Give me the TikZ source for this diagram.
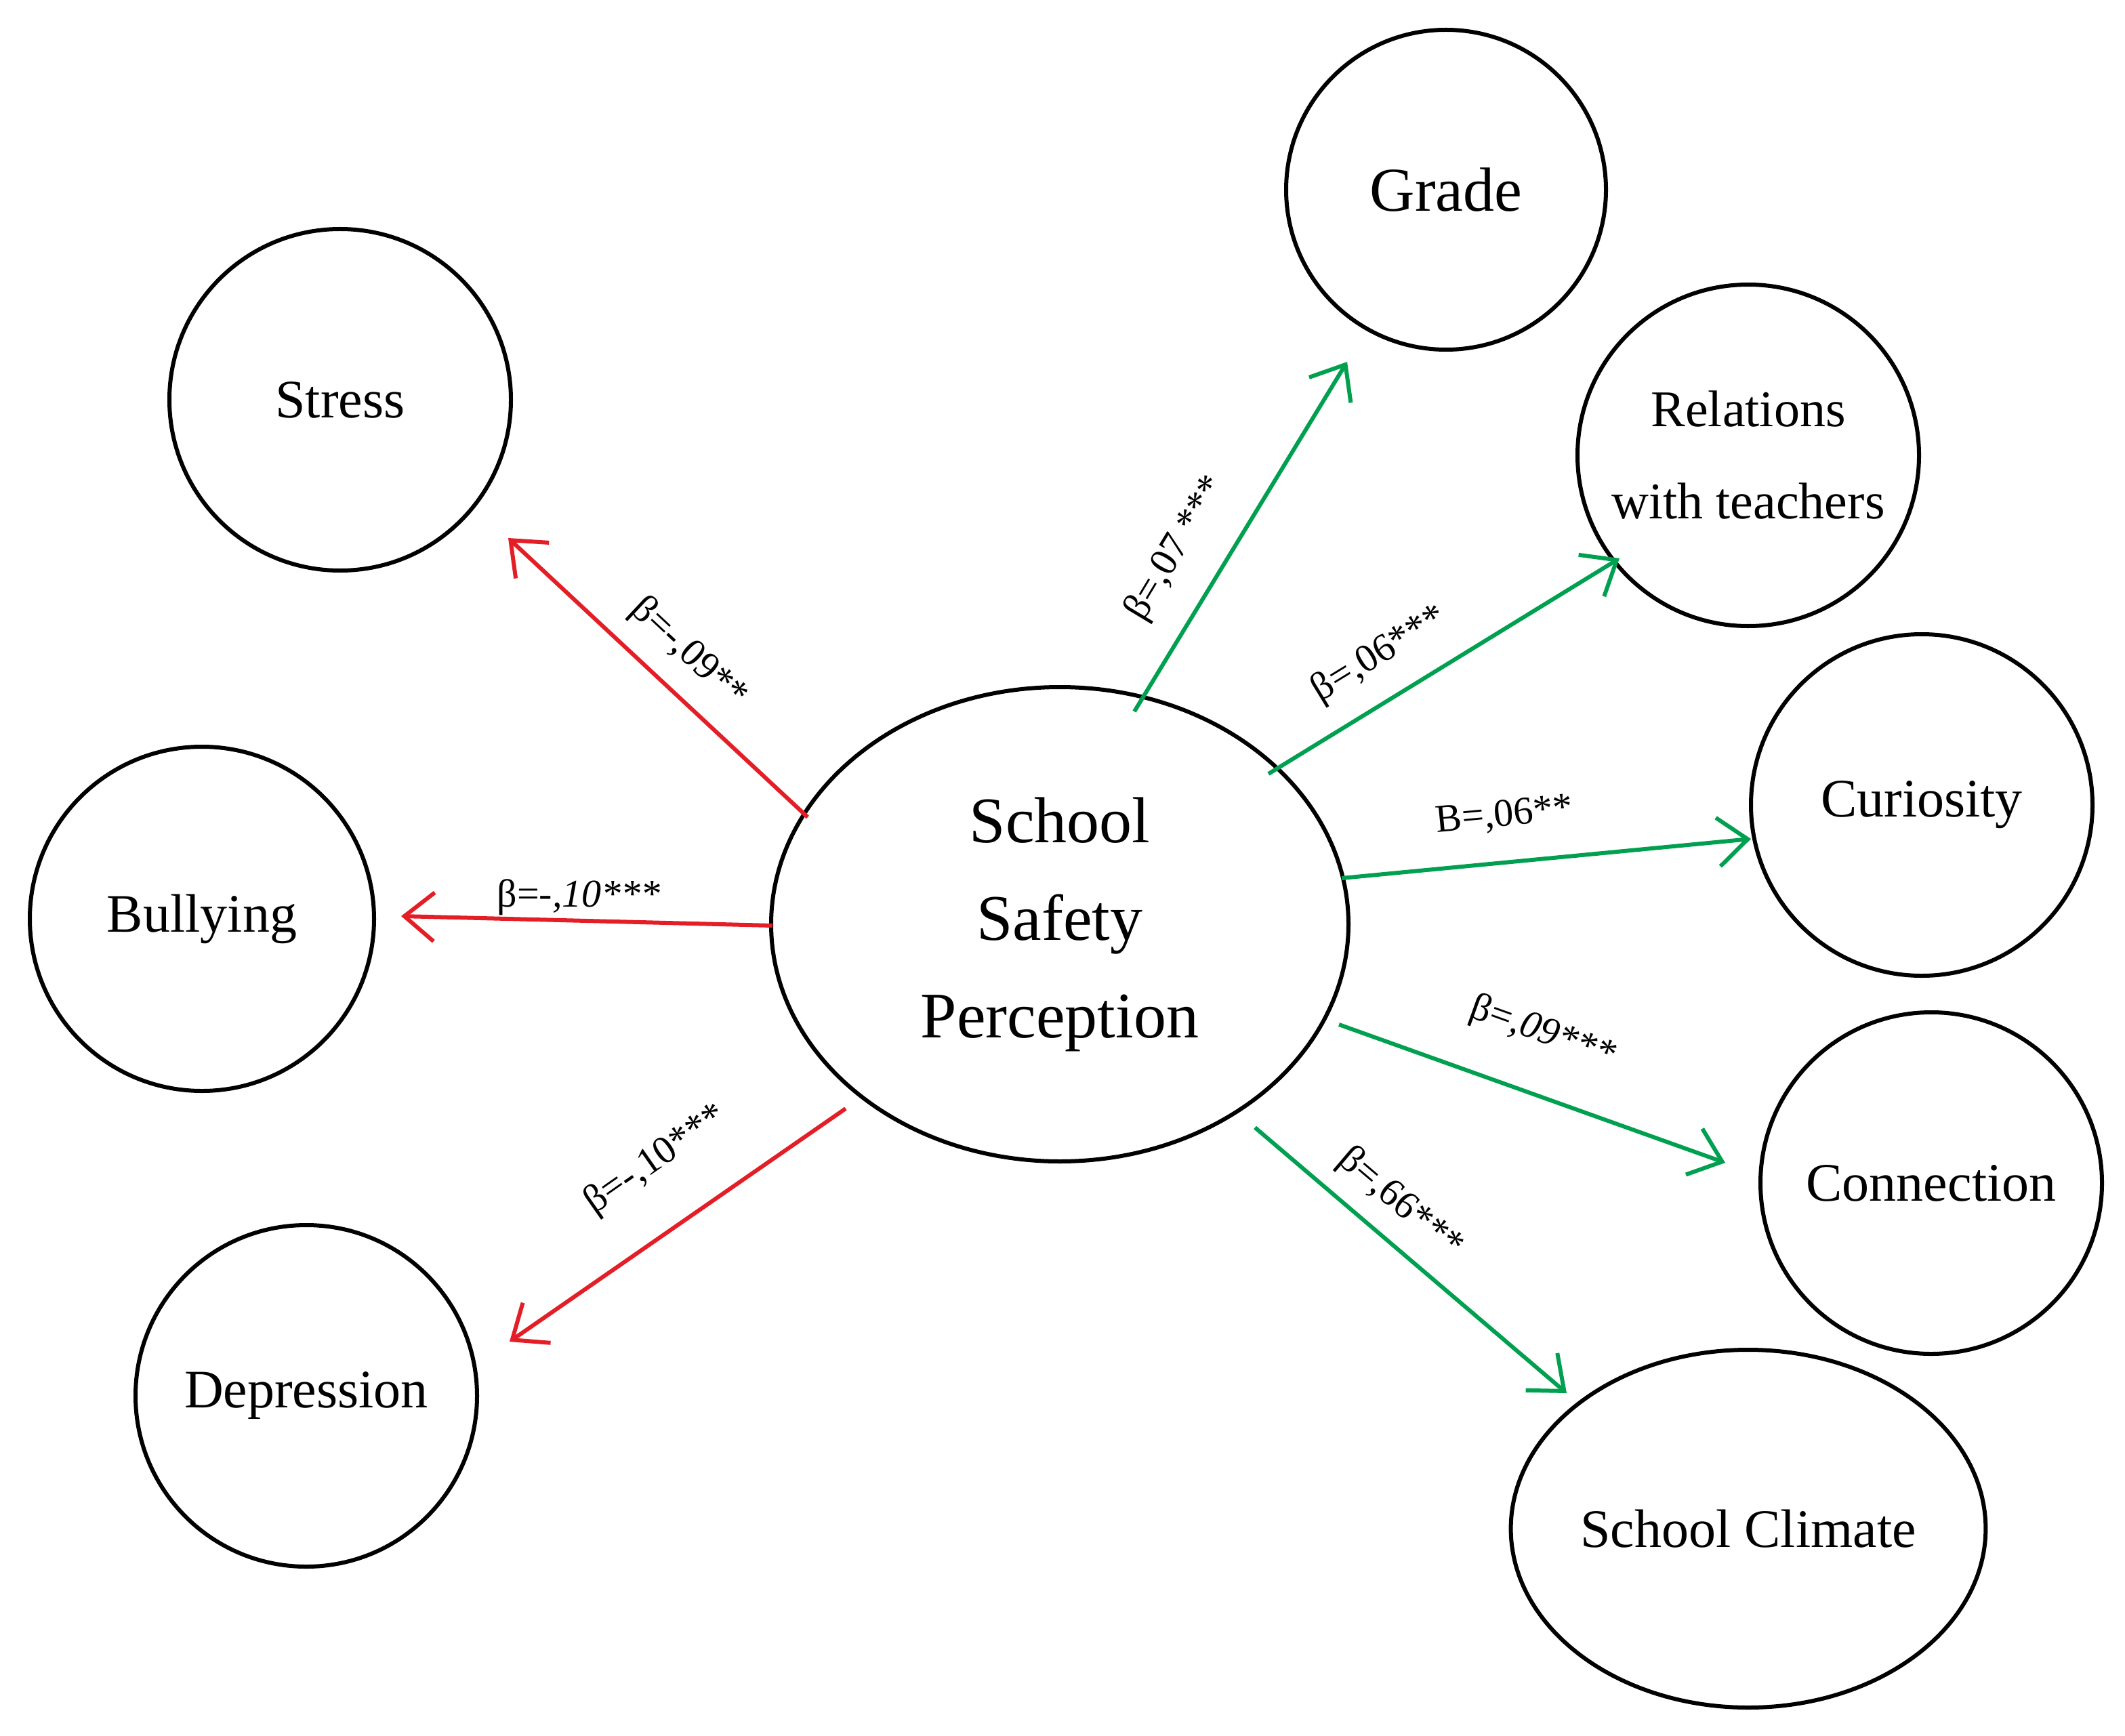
\documentclass[tikz,border=0pt]{standalone}
\usepackage{fontspec}
\setmainfont{Liberation Serif}
\usetikzlibrary{arrows.meta,shapes.geometric}
\definecolor{ared}{RGB}{228,30,38}
\definecolor{agreen}{RGB}{0,160,80}
\begin{document}
\begin{tikzpicture}[x=1pt,y=-1pt,
  circ/.style={draw,line width=3pt,circle,inner sep=0pt,font=\fontsize{40}{48}\selectfont,align=center},
  ell/.style={draw,line width=3pt,ellipse,inner sep=0pt,align=center},
  arr/.style={line width=3pt,-{Straight Barb[length=22pt,width=36pt,line width=3pt]}},
  negarr/.style={arr,ared},
  posarr/.style={arr,agreen},
  lab/.style={font=\fontsize{29}{33}\selectfont,inner sep=1pt}]
\useasboundingbox (0,0) rectangle (1568,1281);
\node[circ,minimum size=236pt,font=\fontsize{46}{52}\selectfont] (grade) at (1067,140) {Grade};
\node[circ,minimum size=252pt] (stress) at (251,295) {Stress};
\node[circ,minimum size=252pt,font=\fontsize{38}{48}\selectfont] (rel) at (1290,336) {Relations\\[20pt]with teachers};
\node[circ,minimum size=252pt] (cur) at (1418,594) {Curiosity};
\node[circ,minimum size=254pt] (bul) at (149,678) {Bullying};
\node[circ,minimum size=252pt] (con) at (1425,873) {Connection};
\node[circ,minimum size=252pt] (dep) at (226,1030) {Depression};
\node[ell,minimum width=344pt,minimum height=264pt,font=\fontsize{40}{46}\selectfont] (clim) at (1290,1128) {School Climate};
\node[ell,minimum width=426pt,minimum height=350pt,font=\fontsize{48}{72}\selectfont] (ssp) at (782,682) {School\\Safety\\Perception};
\coordinate (s1) at (596,603); \coordinate (e1) at (375,397);
\coordinate (s2) at (570,683); \coordinate (e2) at (296,676);
\coordinate (s3) at (624,818); \coordinate (e3) at (376,990);
\coordinate (s4) at (837,525); \coordinate (e4) at (994,267);
\coordinate (s5) at (936,571); \coordinate (e5) at (1195,412);
\coordinate (s6) at (990,648); \coordinate (e6) at (1292,619);
\coordinate (s7) at (988,756); \coordinate (e7) at (1273,858);
\coordinate (s8) at (926,832); \coordinate (e8) at (1156,1028);
\draw[negarr] (s1) -- (e1);
\draw[negarr] (s2) -- (e2);
\draw[negarr] (s3) -- (e3);
\draw[posarr] (s4) -- (e4);
\draw[posarr] (s5) -- (e5);
\draw[posarr] (s6) -- (e6);
\draw[posarr] (s7) -- (e7);
\draw[posarr] (s8) -- (e8);
\node[lab,rotate=-43] (l1) at (508,482) {β=-,09**};
\node[lab] (l2) at (427,662) {β=-\textit{,10***}};
\node[lab,rotate=35] (l3) at (484,856) {β=-,10***};
\node[lab,rotate=59] (l4) at (868,405) {β=,07 ***};
\node[lab,rotate=31.5] (l5) at (1018,483) {β=,06***};
\node[lab,rotate=5.5] (l6) at (1110,602) {B=,06**};
\node[lab,rotate=-19.7] (l7) at (1138,762) {β=\textit{,09***}};
\node[lab,rotate=-40.4] (l8) at (1033,888) {β=,66***};
\end{tikzpicture}
\end{document}
